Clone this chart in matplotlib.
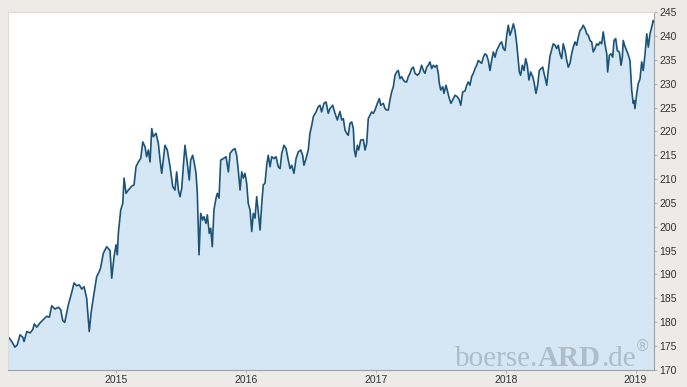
import matplotlib
matplotlib.use("Agg")
import matplotlib.pyplot as plt
from matplotlib.ticker import FixedLocator

years = [
    2014.165, 2014.179, 2014.197, 2014.222, 2014.240, 2014.261, 2014.282, 2014.292, 2014.313, 2014.338,
    2014.359, 2014.371, 2014.390, 2014.415, 2014.440, 2014.467, 2014.487, 2014.505, 2014.530, 2014.556,
    2014.574, 2014.590, 2014.605, 2014.633, 2014.659, 2014.677, 2014.697, 2014.717, 2014.736, 2014.754,
    2014.774, 2014.794, 2014.808, 2014.825, 2014.851, 2014.871, 2014.881, 2014.902, 2014.928, 2014.954,
    2014.967, 2014.985, 2015.000, 2015.010, 2015.018, 2015.036, 2015.052, 2015.062, 2015.077, 2015.095,
    2015.121, 2015.139, 2015.154, 2015.172, 2015.190, 2015.206, 2015.223, 2015.236, 2015.249, 2015.262,
    2015.275, 2015.287, 2015.308, 2015.326, 2015.339, 2015.352, 2015.364, 2015.377, 2015.395, 2015.416,
    2015.437, 2015.454, 2015.467, 2015.480, 2015.493, 2015.506, 2015.518, 2015.531, 2015.549, 2015.564,
    2015.575, 2015.590, 2015.603, 2015.616, 2015.626, 2015.639, 2015.652, 2015.667, 2015.677, 2015.693,
    2015.703, 2015.718, 2015.729, 2015.741, 2015.754, 2015.770, 2015.780, 2015.793, 2015.806, 2015.826,
    2015.847, 2015.865, 2015.878, 2015.898, 2015.916, 2015.929, 2015.941, 2015.955, 2015.968, 2015.980,
    2015.993, 2016.006, 2016.018, 2016.032, 2016.045, 2016.057, 2016.070, 2016.083, 2016.095, 2016.109,
    2016.122, 2016.134, 2016.147, 2016.160, 2016.172, 2016.186, 2016.199, 2016.216, 2016.232, 2016.249,
    2016.263, 2016.276, 2016.293, 2016.309, 2016.326, 2016.340, 2016.353, 2016.370, 2016.386, 2016.403,
    2016.422, 2016.437, 2016.447, 2016.463, 2016.480, 2016.493, 2016.507, 2016.519, 2016.540, 2016.557,
    2016.570, 2016.583, 2016.601, 2016.617, 2016.634, 2016.647, 2016.668, 2016.686, 2016.704, 2016.724,
    2016.738, 2016.750, 2016.763, 2016.776, 2016.788, 2016.801, 2016.815, 2016.827, 2016.835, 2016.845,
    2016.858, 2016.868, 2016.884, 2016.904, 2016.917, 2016.930, 2016.942, 2016.955, 2016.968, 2016.981,
    2016.994, 2017.012, 2017.027, 2017.038, 2017.058, 2017.071, 2017.084, 2017.096, 2017.109, 2017.122,
    2017.135, 2017.148, 2017.161, 2017.173, 2017.186, 2017.199, 2017.212, 2017.225, 2017.238, 2017.250,
    2017.263, 2017.276, 2017.289, 2017.302, 2017.320, 2017.335, 2017.353, 2017.366, 2017.379, 2017.392,
    2017.404, 2017.417, 2017.430, 2017.443, 2017.456, 2017.469, 2017.481, 2017.489, 2017.500, 2017.515,
    2017.525, 2017.540, 2017.550, 2017.566, 2017.579, 2017.597, 2017.610, 2017.627, 2017.643, 2017.654,
    2017.669, 2017.687, 2017.700, 2017.712, 2017.725, 2017.738, 2017.751, 2017.764, 2017.777, 2017.789,
    2017.802, 2017.815, 2017.828, 2017.841, 2017.854, 2017.866, 2017.879, 2017.892, 2017.905, 2017.918,
    2017.931, 2017.943, 2017.956, 2017.969, 2017.982, 2017.995, 2018.008, 2018.020, 2018.033, 2018.046,
    2018.059, 2018.072, 2018.085, 2018.097, 2018.105, 2018.115, 2018.128, 2018.141, 2018.154, 2018.166,
    2018.179, 2018.192, 2018.208, 2018.218, 2018.233, 2018.246, 2018.259, 2018.272, 2018.285, 2018.295,
    2018.305, 2018.316, 2018.328, 2018.341, 2018.354, 2018.366, 2018.380, 2018.393, 2018.405, 2018.418,
    2018.431, 2018.443, 2018.457, 2018.470, 2018.482, 2018.495, 2018.508, 2018.520, 2018.534, 2018.547,
    2018.559, 2018.572, 2018.585, 2018.597, 2018.611, 2018.624, 2018.636, 2018.649, 2018.662, 2018.674,
    2018.687, 2018.701, 2018.713, 2018.726, 2018.739, 2018.751, 2018.764, 2018.778, 2018.785, 2018.798,
    2018.811, 2018.824, 2018.834, 2018.847, 2018.859, 2018.875, 2018.888, 2018.898, 2018.905, 2018.916,
    2018.931, 2018.945, 2018.957, 2018.970, 2018.982, 2018.989, 2018.995, 2019.009, 2019.021, 2019.034,
    2019.047, 2019.059, 2019.072, 2019.086, 2019.098, 2019.111, 2019.124, 2019.136, 2019.142,
]
prices = [
    177.0, 176.6, 175.9, 174.7, 175.2, 177.3, 176.8, 175.9, 178.0, 177.7,
    178.4, 179.6, 178.9, 179.8, 180.5, 181.2, 181.0, 183.4, 182.7, 183.1,
    182.6, 180.3, 179.9, 183.6, 186.2, 188.2, 187.6, 187.8, 186.9, 187.4,
    185.0, 178.0, 181.9, 185.0, 189.5, 190.6, 191.3, 194.4, 195.8, 195.0,
    189.2, 193.7, 196.2, 194.1, 198.6, 203.5, 204.9, 210.2, 207.0, 207.7,
    208.5, 208.8, 212.6, 213.6, 214.3, 217.8, 216.8, 214.7, 216.1, 213.6,
    220.6, 218.9, 219.6, 217.5, 214.0, 211.2, 214.0, 217.1, 216.1, 212.6,
    208.4, 207.7, 211.5, 207.7, 206.3, 208.1, 212.6, 217.1, 213.3, 209.8,
    214.0, 215.0, 213.3, 211.2, 207.0, 194.1, 202.8, 201.4, 202.1, 200.7,
    202.5, 198.6, 199.7, 195.8, 203.5, 206.0, 207.0, 206.0, 214.0, 214.3,
    214.7, 211.5, 215.4, 216.1, 216.4, 215.0, 211.9, 207.7, 211.5, 210.2,
    211.2, 209.1, 204.9, 203.5, 199.0, 202.8, 201.8, 206.3, 203.2, 199.3,
    204.9, 208.8, 209.1, 212.9, 215.0, 212.6, 214.7, 214.3, 214.7, 212.6,
    212.2, 215.4, 217.1, 216.4, 214.0, 212.2, 212.9, 211.2, 214.3, 215.7,
    216.1, 215.0, 212.9, 214.3, 216.1, 219.6, 221.3, 223.1, 224.1, 225.2,
    225.5, 224.1, 225.9, 226.2, 223.8, 224.8, 225.5, 223.8, 222.4, 224.2,
    222.4, 222.7, 220.3, 219.6, 219.2, 221.7, 222.0, 220.6, 216.1, 214.7,
    217.1, 216.1, 218.2, 218.3, 216.1, 217.5, 222.7, 223.4, 224.1, 223.8,
    224.5, 225.9, 226.9, 225.5, 225.9, 224.8, 224.5, 224.5, 226.6, 228.3,
    229.4, 231.8, 232.5, 232.8, 231.1, 231.5, 230.8, 230.4, 230.4, 231.5,
    232.2, 233.2, 233.5, 232.2, 231.8, 232.2, 233.9, 232.8, 232.2, 233.5,
    233.9, 234.6, 233.2, 233.9, 233.5, 233.9, 232.2, 230.1, 228.7, 229.4,
    228.0, 229.7, 228.7, 226.9, 225.9, 226.9, 227.6, 227.3, 226.6, 225.5,
    228.3, 228.5, 229.7, 230.4, 229.7, 231.5, 232.2, 233.2, 233.9, 234.9,
    234.6, 234.3, 235.6, 236.3, 236.0, 234.9, 232.8, 234.9, 236.7, 235.6,
    237.0, 237.7, 238.4, 238.8, 237.4, 237.0, 240.2, 242.3, 240.2, 241.2,
    242.6, 241.2, 238.4, 234.9, 232.5, 231.8, 233.9, 232.8, 235.3, 233.9,
    230.8, 232.5, 231.5, 230.4, 228.0, 229.7, 232.8, 233.2, 233.5, 232.2,
    231.1, 229.7, 232.8, 235.8, 237.2, 238.4, 238.1, 237.4, 238.1, 236.3,
    235.3, 238.4, 237.0, 234.9, 233.5, 234.3, 236.3, 237.7, 238.8, 238.1,
    239.8, 241.2, 241.6, 242.3, 241.6, 240.5, 240.2, 239.1, 238.8, 236.7,
    237.4, 238.4, 238.1, 238.8, 238.4, 240.9, 238.4, 236.3, 232.5, 236.0,
    236.3, 235.6, 239.1, 239.5, 237.0, 236.7, 233.9, 235.6, 239.1, 238.0,
    237.0, 236.0, 234.9, 228.7, 225.9, 226.5, 224.8, 228.0, 230.1, 231.0,
    234.6, 232.8, 236.0, 240.5, 237.7, 240.5, 241.9, 243.3, 243.0,
]
year_ticks = [2015, 2016, 2017, 2018, 2019]
price_ticks = list(range(170, 250, 5))

fig = plt.figure(figsize=(6.87, 3.87), dpi=100, facecolor="#edebe8")
ax = fig.add_axes([0.011, 0.045, 0.941, 0.923])
ax.set_facecolor("white")

ax.fill_between(years, prices, 170, color="#d5e7f4", linewidth=0)
ax.plot(years, prices, color="#1b5478", linewidth=1.2)

ax.set_xlim(years[0], years[-1])
ax.set_ylim(170, 245)

ax.xaxis.set_major_locator(FixedLocator(year_ticks))
ax.set_xticklabels([str(y) for y in year_ticks])
ax.yaxis.set_major_locator(FixedLocator(price_ticks))
ax.yaxis.tick_right()
ax.tick_params(axis="x", length=2, width=0.6, color="#aaaaaa", pad=2,
               labelsize=7.5, labelcolor="#333333")
ax.tick_params(axis="y", length=2, width=0.6, color="#aaaaaa", pad=2,
               labelsize=7.5, labelcolor="#333333")
for lbl in ax.get_xticklabels() + ax.get_yticklabels():
    lbl.set_fontfamily(["Liberation Sans Narrow", "Liberation Sans", "DejaVu Sans"])

for side in ["top", "left"]:
    ax.spines[side].set_color("#dcdcdc")
    ax.spines[side].set_linewidth(0.8)
for side in ["bottom", "right"]:
    ax.spines[side].set_color("#a0a0a0")
    ax.spines[side].set_linewidth(0.8)

# watermark, chained pieces
wm_color = "#aebdc8"
fig.canvas.draw()
r = fig.canvas.get_renderer()
x0, y0 = 455 / 687, 1 - 366 / 387
pieces = [("boerse.", "normal"), ("ARD", "bold"), (".de", "normal")]
for s, w in pieces:
    t = fig.text(x0, y0, s, fontsize=21, fontweight=w, color=wm_color,
                 family="Liberation Serif", va="baseline", ha="left")
    bb = t.get_window_extent(r)
    x0 = bb.x1 / fig.bbox.width
fig.text(x0 - 0.002, y0 + 0.04, "\u00ae", fontsize=11, color=wm_color,
         family="DejaVu Sans", va="baseline", ha="left")

fig.savefig("out.png", dpi=100, facecolor=fig.get_facecolor())
